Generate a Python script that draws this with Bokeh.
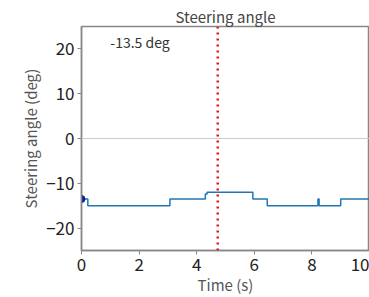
from bokeh.plotting import figure
from bokeh.models import Span, Label, Range1d, FixedTicker
from bokeh.embed import file_html
from bokeh.resources import INLINE

# data
time_s = [0.0, 0.22, 3.07, 4.30, 4.36, 5.95, 6.45, 8.21, 8.25, 9.0, 10.2]
angle_deg = [-13.5, -15.0, -13.5, -12.4, -12.0, -13.5, -15.0, -13.5, -15.0, -13.5, -13.5]
current_time = 4.73
current_angle = -13.5
x_ticks = [0, 2, 4, 6, 8, 10]
y_ticks = [-20, -10, 0, 10, 20]
label_text = "-13.5 deg"
title_text = "Steering angle"
baseline = 0

FONT = "Noto Sans CJK JP"

p = figure(width=369, height=297, output_backend="svg", toolbar_location=None,
           x_range=Range1d(0, 10.0), y_range=Range1d(-25, 25),
           title=title_text,
           min_border_left=81, min_border_right=0,
           min_border_bottom=44, min_border_top=26)
p.title.align = "center"
p.title.text_font = FONT
p.title.text_font_size = "15px"
p.title.text_font_style = "normal"
p.title.text_color = "#444444"
p.title.standoff = 0
p.title.offset = 0

p.xgrid.visible = False
p.ygrid.visible = False
p.outline_line_color = "#888888"
p.outline_line_width = 1.5

for ax in (p.xaxis, p.yaxis):
    ax.axis_line_color = "#888888"
    ax.axis_line_width = 1.5
    ax.major_tick_line_color = "#888888"
    ax.major_tick_out = 4
    ax.major_tick_in = 0
    ax.minor_tick_line_color = None
    ax.major_label_text_font = FONT
    ax.major_label_text_font_size = "17px"
    ax.major_label_text_color = "#222222"
    ax.major_label_standoff = 3
    ax.axis_label_text_font = FONT
    ax.axis_label_text_font_size = "15px"
    ax.axis_label_text_font_style = "normal"
    ax.axis_label_text_color = "#555555"

p.xaxis.ticker = FixedTicker(ticks=x_ticks)
p.yaxis.ticker = FixedTicker(ticks=y_ticks)
p.yaxis.major_label_overrides = {v: str(v).replace("-", "\u2212") for v in y_ticks}
p.xaxis.axis_label = "Time (s)"
p.yaxis.axis_label = "Steering angle (deg)"
p.xaxis.axis_label_standoff = 0
p.yaxis.axis_label_standoff = 2

p.add_layout(Span(location=baseline, dimension="width", line_color="#cccccc", line_width=1))

p.step(time_s, angle_deg, mode="after", line_color="#1f77b4", line_width=1.5)
p.scatter([0.0], [current_angle], size=7, color="#0a1f9e", marker="circle")

p.add_layout(Span(location=current_time, dimension="height", line_color="#e3121b",
                  line_width=2.5, line_dash="2 4"))

p.add_layout(Label(x=1.0, y=21.5, text=label_text, text_font=FONT, text_font_size="14px",
                   text_color="#333333", text_baseline="middle"))

open("out.html", "w").write(file_html(p, INLINE))
